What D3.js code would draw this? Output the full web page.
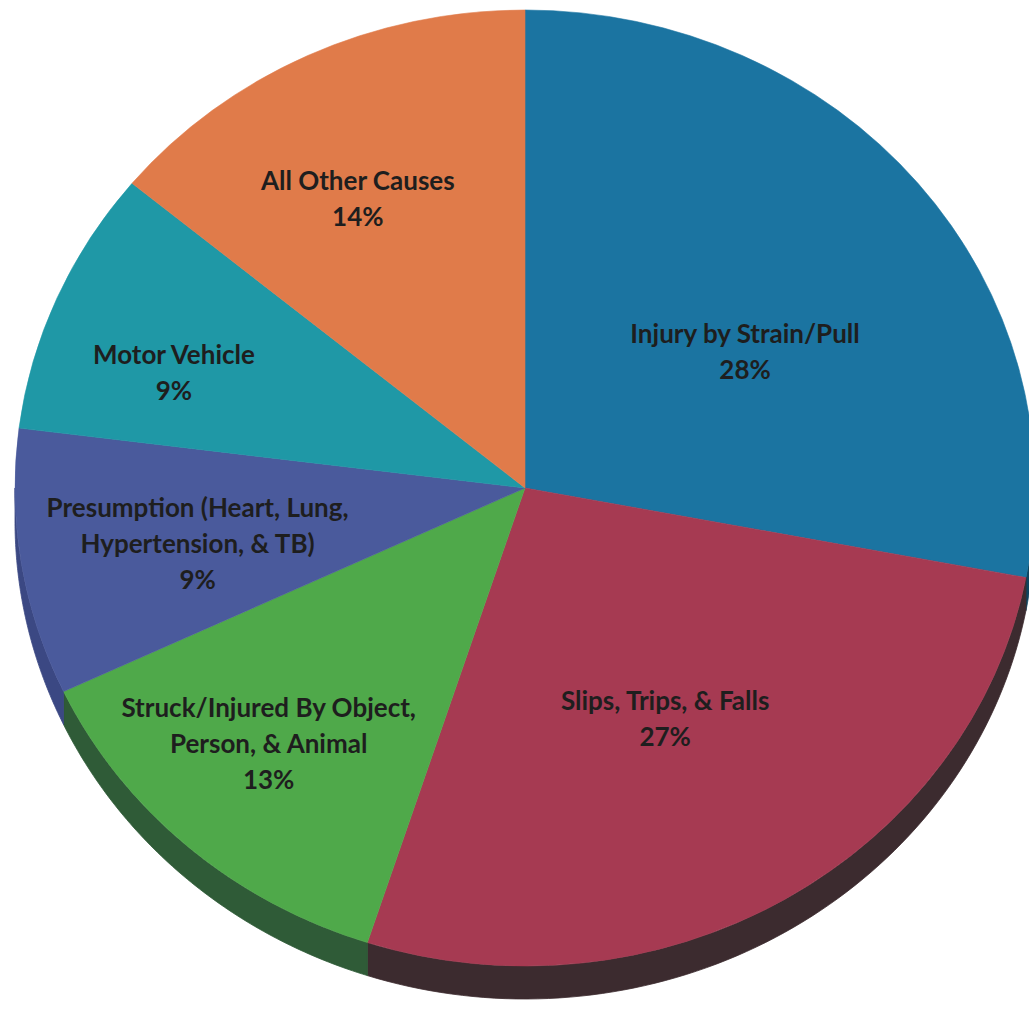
<!DOCTYPE html>
<html><head><meta charset="utf-8">
<script src="https://cdn.jsdelivr.net/npm/d3@7"></script>
<style>html,body{margin:0;padding:0;background:#fff;overflow:hidden}</style>
</head><body>
<svg id="chart" width="1029" height="1010"></svg>
<script>
// ---- data ----
const categories = [
  "Injury by Strain/Pull",
  "Slips, Trips, & Falls",
  "Struck/Injured By Object, Person, & Animal",
  "Presumption (Heart, Lung, Hypertension, & TB)",
  "Motor Vehicle",
  "All Other Causes"
];
const labelLines = [
  ["Injury by Strain/Pull"],
  ["Slips, Trips, & Falls"],
  ["Struck/Injured By Object,", "Person, & Animal"],
  ["Presumption (Heart, Lung,", "Hypertension, & TB)"],
  ["Motor Vehicle"],
  ["All Other Causes"]
];
const values = [28, 27, 13, 9, 9, 14];
const percentLabels = ["28%", "27%", "13%", "9%", "9%", "14%"];

// ---- styles / layout ----
const topColors  = ["#1b74a1", "#a63a52", "#4fa94a", "#4a5a9c", "#1f98a6", "#e07b4a"];
const sideColors = ["#0f4560", "#3c2b2f", "#2f5b37", "#3b4883", "#146570", "#8a4a2c"];
const labelFracX = [0.56, 0.54, 0.76, 0.65, 0.75, 0.77];
const labelFracY = [0.45, 0.56, 0.71, 0.74, 0.61, 0.67];

const cx = 525, cy = 488, rx = 510, ry = 478, depth = 33;
const lineH = 36;

const svg = d3.select("#chart");
const pie = d3.pie().sort(null).value(d => d).startAngle(0).endAngle(2 * Math.PI);
const arcs = pie(values);

// side walls (front half only)
const ptTop = a => [cx + rx * Math.sin(a), cy - ry * Math.cos(a)];
const sideG = svg.append("g");
arcs.forEach((a, i) => {
  const a0 = Math.max(a.startAngle, Math.PI / 2);
  const a1 = Math.min(a.endAngle, 3 * Math.PI / 2);
  if (a0 >= a1) return;
  const n = 80;
  const angs = d3.range(n + 1).map(k => a0 + (a1 - a0) * k / n);
  const top = angs.map(ptTop);
  const bot = angs.slice().reverse().map(t => { const p = ptTop(t); return [p[0], p[1] + depth]; });
  sideG.append("path")
    .attr("d", d3.line()(top.concat(bot)) + "Z")
    .attr("fill", sideColors[i])
    .attr("stroke", sideColors[i])
    .attr("stroke-width", 0.8);
});

// top surface
const arc = d3.arc().innerRadius(0).outerRadius(rx);
const topG = svg.append("g").attr("transform", `translate(${cx},${cy}) scale(1,${ry / rx})`);
topG.selectAll("path").data(arcs).join("path")
  .attr("d", arc)
  .attr("fill", (d, i) => topColors[i])
  .attr("stroke", (d, i) => topColors[i])
  .attr("stroke-width", 0.6);

// labels
const labG = svg.append("g")
  .attr("font-family", "Lato, 'Open Sans', sans-serif")
  .attr("font-weight", "bold")
  .attr("font-size", 26)
  .attr("fill", "#1e1e1e")
  .attr("text-anchor", "middle");
arcs.forEach((a, i) => {
  const mid = (a.startAngle + a.endAngle) / 2;
  const x = cx + labelFracX[i] * rx * Math.sin(mid);
  const y = cy - labelFracY[i] * ry * Math.cos(mid);
  const lines = labelLines[i].concat([percentLabels[i]]);
  const y0 = y - (lines.length - 1) * lineH / 2;
  const t = labG.append("text").attr("x", x).attr("y", y0).attr("dominant-baseline", "central");
  lines.forEach((s, k) => {
    t.append("tspan").attr("x", x).attr("y", y0 + k * lineH).text(s);
  });
});
</script>
</body></html>
